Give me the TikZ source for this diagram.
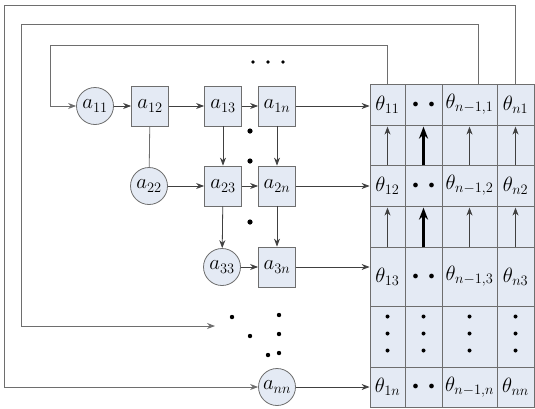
\documentclass[tikz,border=0pt]{standalone}
\usepackage{amsmath, amssymb}
\usepackage{xcolor}
\usepackage{tikz}
\usetikzlibrary{positioning, calc, arrows.meta}

\begin{document}
\begin{tikzpicture}[x=1pt, y=-1pt, >={Stealth[length=8pt, width=6pt]},
  linha/.style={draw=cinza, line width=0.8pt},
  seta/.style={->, draw=black!75, line width=0.8pt},
  circulo/.style={circle, draw=cinza, fill=fundo, line width=0.8pt, minimum size=37pt, inner sep=0pt},
  bloco/.style={rectangle, draw=cinza, fill=fundo, line width=0.8pt, minimum width=37pt, minimum height=40pt, inner sep=0pt},
  cel/.style={rectangle, draw=cinza, fill=fundo, line width=0.8pt, inner sep=0pt},
  font=\fontsize{20}{22}\selectfont]
% --- CORES E MOLDURA ---
\definecolor{fundo}{HTML}{E4EAF4}
\definecolor{cinza}{HTML}{6E6E6E}
\useasboundingbox (0,0) rectangle (535,408);

% LAYER 1: Tabela dos theta
\foreach \r/\y/\h/\k in {1/104.5/41/1, 3/185.5/41/2, 5/276.5/59/3, 7/387/40/n}{
  \node[cel, minimum width=35pt, minimum height=\h pt] (g1\r) at (387.5,\y) {$\theta_{1\k}$};
  \node[cel, minimum width=37pt, minimum height=\h pt] (g2\r) at (423.5,\y) {\fontsize{12}{12}\selectfont$\bullet$\hspace{10pt}$\bullet$};
  \node[cel, minimum width=55pt, minimum height=\h pt] (g3\r) at (469.5,\y) {$\theta_{n-1,\k}$};
  \node[cel, minimum width=37pt, minimum height=\h pt] (g4\r) at (515.5,\y) {$\theta_{n\k}$};
}
\foreach \r/\y/\h in {2/145/40, 4/226.5/41, 6/336.5/61}{
  \foreach \c/\x/\w in {1/387.5/35, 2/423.5/37, 3/469.5/55, 4/515.5/37}
    \node[cel, minimum width=\w pt, minimum height=\h pt] (g\c\r) at (\x,\y) {};
}

% LAYER 2: Setas verticais dentro da tabela
\foreach \r in {2,4}{
  \draw[seta, shorten >=2pt] (g1\r.south) -- (g1\r.north);
  \draw[-{Stealth[length=12pt, width=9pt]}, draw=black, line width=2.2pt, shorten >=2pt] (g2\r.south) -- (g2\r.north);
  \draw[seta, shorten >=2pt] (g3\r.south) -- (g3\r.north);
  \draw[seta, shorten >=2pt] (g4\r.south) -- (g4\r.north);
}
\foreach \c in {1,2,3,4}
  \foreach \d in {-14,3,20}
    \fill ([yshift=\d pt]g\c6.center) circle (2pt);

% LAYER 3: Elementos a_ij
\node[circulo] (a11) at (95,106) {$a_{11}$};
\node[bloco] (a12) at (150,106) {$a_{12}$};
\node[bloco] (a13) at (223,106) {$a_{13}$};
\node[bloco] (a1n) at (277,106) {$a_{1n}$};
\node[circulo] (a22) at (149,186) {$a_{22}$};
\node[bloco] (a23) at (223,186) {$a_{23}$};
\node[bloco] (a2n) at (277,186) {$a_{2n}$};
\node[circulo] (a33) at (222,267) {$a_{33}$};
\node[bloco] (a3n) at (277,267) {$a_{3n}$};
\node[circulo] (ann) at (277,387) {$a_{nn}$};
\coordinate (pp) at (215,326);

% LAYER 4: Ligacoes
\draw[seta] (a11) -- (a12);
\draw[seta] (a12) -- (a13);
\draw[seta] (a13) -- (a1n);
\draw[seta] (a22) -- (a23);
\draw[seta] (a23) -- (a2n);
\draw[seta] (a33) -- (a3n);
\draw[linha] (a12) -- (a22);
\draw[seta] (a13) -- (a23);
\draw[seta] (a1n) -- (a2n);
\draw[seta] (a23) -- (a33);
\draw[seta] (a2n) -- (a3n);
\draw[seta] (a1n) -- (a1n -| g11.west);
\draw[seta] (a2n) -- (a2n -| g13.west);
\draw[seta] (a3n) -- (a3n -| g15.west);
\draw[seta] (ann) -- (ann -| g17.west);

% LAYER 5: Realimentacao
\draw[seta, draw=cinza] (g11.north) |- (50,45) |- (a11);
\draw[seta, draw=cinza] ([xshift=8.5pt]g31.north) |- (21,24) |- (pp);
\draw[seta, draw=cinza] (g41.north) |- (4,5) |- (ann);

% LAYER 6: Reticencias
\foreach \x in {253,268,283} \fill (\x,62) circle (1.8pt);
\foreach \y in {131,161,222} \fill (250,\y) circle (2.6pt);
\foreach \x/\y in {232/317, 250/336, 268/355} \fill (\x,\y) circle (2.2pt);
\foreach \y in {315,334,353} \fill (279,\y) circle (2.2pt);
\end{tikzpicture}
\end{document}
